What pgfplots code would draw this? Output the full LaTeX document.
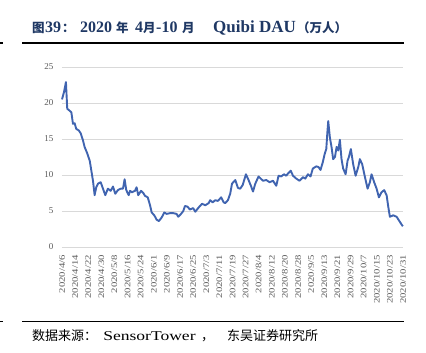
\documentclass[border=0pt]{standalone}
\usepackage{pgfplots}
\pgfplotsset{compat=1.18}
\usepackage{fontspec}
\setmainfont{Liberation Serif}
\newfontfamily\cjk{Noto Sans CJK SC}
\definecolor{navy}{RGB}{31,56,100}
\definecolor{linec}{RGB}{64,100,176}
\definecolor{gridc}{RGB}{217,217,217}
\definecolor{labc}{RGB}{89,89,89}
\begin{document}
\begin{tikzpicture}
\useasboundingbox (0,0) rectangle (426bp,353bp);
% title
\begin{scope}[every node/.style={anchor=base west, inner sep=0pt, text=navy}]
\node at (32bp,320bp) {\cjk\bfseries\fontsize{12.5bp}{14bp}\selectfont 图};
\node at (45bp,320bp) {\bfseries\fontsize{16bp}{18bp}\selectfont 39};
\node at (62bp,320bp) {\cjk\bfseries\fontsize{12.5bp}{14bp}\selectfont ：};
\node at (80bp,320bp) {\bfseries\fontsize{16bp}{18bp}\selectfont 2020};
\node at (116bp,320bp) {\cjk\bfseries\fontsize{12.5bp}{14bp}\selectfont 年};
\node at (135bp,320bp) {\bfseries\fontsize{16bp}{18bp}\selectfont 4};
\node at (143bp,320bp) {\cjk\bfseries\fontsize{12.5bp}{14bp}\selectfont 月};
\node at (156bp,320bp) {\bfseries\fontsize{16bp}{18bp}\selectfont -10};
\node at (182bp,320bp) {\cjk\bfseries\fontsize{12.5bp}{14bp}\selectfont 月};
\node at (213bp,320bp) {\bfseries\fontsize{17bp}{19bp}\selectfont Quibi DAU};
\node at (297bp,320bp) {\cjk\bfseries\fontsize{12.5bp}{14bp}\selectfont （万人）};
\end{scope}
\draw[line width=1.5bp] (22bp,310bp) -- (404bp,310bp);
\draw[line width=1.5bp] (0bp,310bp) -- (3bp,310bp);
\draw[line width=1.5bp] (22bp,31.3bp) -- (404bp,31.3bp);
\draw[line width=1.5bp] (0bp,31.3bp) -- (3bp,31.3bp);
% source
\begin{scope}[every node/.style={anchor=base west, inner sep=0pt, text=black}]
\node at (32bp,12.5bp) {\cjk\fontsize{13bp}{15bp}\selectfont 数据来源：};
\node[xscale=1.3] at (103bp,12.5bp) {\fontsize{13.5bp}{15bp}\selectfont SensorTower};
\node at (201bp,12.5bp) {\cjk\fontsize{13bp}{15bp}\selectfont ，};
\node at (227bp,12.5bp) {\cjk\fontsize{13bp}{15bp}\selectfont 东吴证券研究所};
\end{scope}
\begin{axis}[
  at={(62bp,106bp)}, anchor=south west,
  scale only axis, width=341bp, height=180bp,
  xmin=0, xmax=208, ymin=0, ymax=25,
  axis line style={draw=none}, tick style={draw=none},
  ymajorgrids, grid style={gridc, line width=0.9bp},
  ytick={0,5,...,25},
  /pgf/number format/assume math mode=true,
  yticklabel style={font=\fontsize{9bp}{10bp}\selectfont, text=labc},
  yticklabel shift=5bp,
  xtick={0,8,...,208},
  xticklabels={2020/4/6,2020/4/14,2020/4/22,2020/4/30,2020/5/8,2020/5/16,2020/5/24,2020/6/1,2020/6/9,2020/6/17,2020/6/25,2020/7/3,2020/7/11,2020/7/19,2020/7/27,2020/8/4,2020/8/12,2020/8/20,2020/8/28,2020/9/5,2020/9/13,2020/9/21,2020/9/29,2020/10/7,2020/10/15,2020/10/23,2020/10/31},
  xticklabel style={font=\fontsize{8.4bp}{9bp}\selectfont, text=labc, rotate=90, anchor=east, xscale=1.27, inner sep=0pt},
  xticklabel shift=8bp,
  clip=false,
]
\addplot[linec, line width=1.9bp, line join=round] coordinates {
(0,20.5) (1.2,21.5) (2.4,22.9) (3.2,19.2) (4.3,19.0) (5.7,18.7) (6.7,17.1) (7.7,17.2) (8.7,16.4) (10.2,16.2) (11.4,15.8) (12.8,14.8) (13.8,13.9) (15.4,13.0) (16.9,12.0) (17.9,10.6) (18.9,9.2) (19.9,7.2) (20.9,8.3) (22,8.8) (23.6,9.0) (25,8.1) (26.4,7.2) (28,8.1) (29.7,7.8) (31.1,8.4) (32.5,7.4) (34.1,7.9) (35.8,8.1) (37.2,8.1) (38.2,9.4) (39.2,7.9) (40.7,7.2)
(41.5,7.8) (42.7,7.6) (44.5,7.8) (45.5,8.3) (46.5,7.2) (48.2,7.8) (49.6,7.5) (50.6,7.1) (52.3,6.9) (53.7,5.8) (54.7,4.8) (56.3,4.4) (57.7,3.8) (59.1,3.6) (60.8,4.1) (62.4,4.8) (63.8,4.6) (65.9,4.7) (67.9,4.7) (69.9,4.6) (70.9,4.2) (72.6,4.6) (74,5.0) (75,5.7) (76.6,5.6) (78,5.2) (80,5.4)
(81.3,4.9) (83.4,5.5) (85.4,6.0) (87.4,5.8) (89.5,6.1) (90.4,6.5) (91.9,6.2) (93.5,6.5) (95.1,6.4) (97.1,6.9) (98.6,6.2) (99.6,6.1) (101.2,6.5) (102.6,7.4) (103.7,8.8) (105.7,9.3) (107.3,8.2) (108.7,8.1) (110.2,8.6) (112.2,10.1) (113.8,9.3) (115.4,8.4) (116.5,7.7) (117.9,8.8) (119.9,9.8)
(121.2,9.5) (122.6,9.2) (124.6,9.3) (126.6,9.0) (128.7,9.2) (130.7,8.5) (132.1,9.9) (133.7,9.8) (135.4,10.1) (136.8,9.9) (137.8,10.2) (139.5,10.6) (140.9,9.9) (142.9,9.5) (144.9,9.2) (147,9.7) (148.4,9.5) (150,10.1) (151.6,9.8) (153,10.9) (155.1,11.2) (156.5,11.1) (157.7,10.7) (159.1,11.8) (160.2,12.9) (161.2,13.6) (161.8,15.7) (162.4,17.5)
(163.4,15.2) (164.4,13.9) (165.4,12.2) (166.5,12.5) (167.5,13.9) (168.5,13.4) (169.5,14.9) (170.5,12.2) (171.5,10.9) (173,10.1) (174.2,12.0) (175,12.5) (176.2,13.6) (177.6,11.5) (179.1,9.9) (180.7,11.1) (181.7,12.2) (183.1,11.5) (184.8,9.7) (186.4,8.1) (187.8,9.0) (188.8,10.1) (190.4,9.0) (191.9,8.1) (193.3,6.9) (194.9,7.6) (196.5,7.9) (198,7.2) (199,5.6) (200,4.2) (202,4.4) (204.1,4.2) (205.5,3.7) (207.5,3.0) (208,2.9)
};
\end{axis}
\end{tikzpicture}
\end{document}
